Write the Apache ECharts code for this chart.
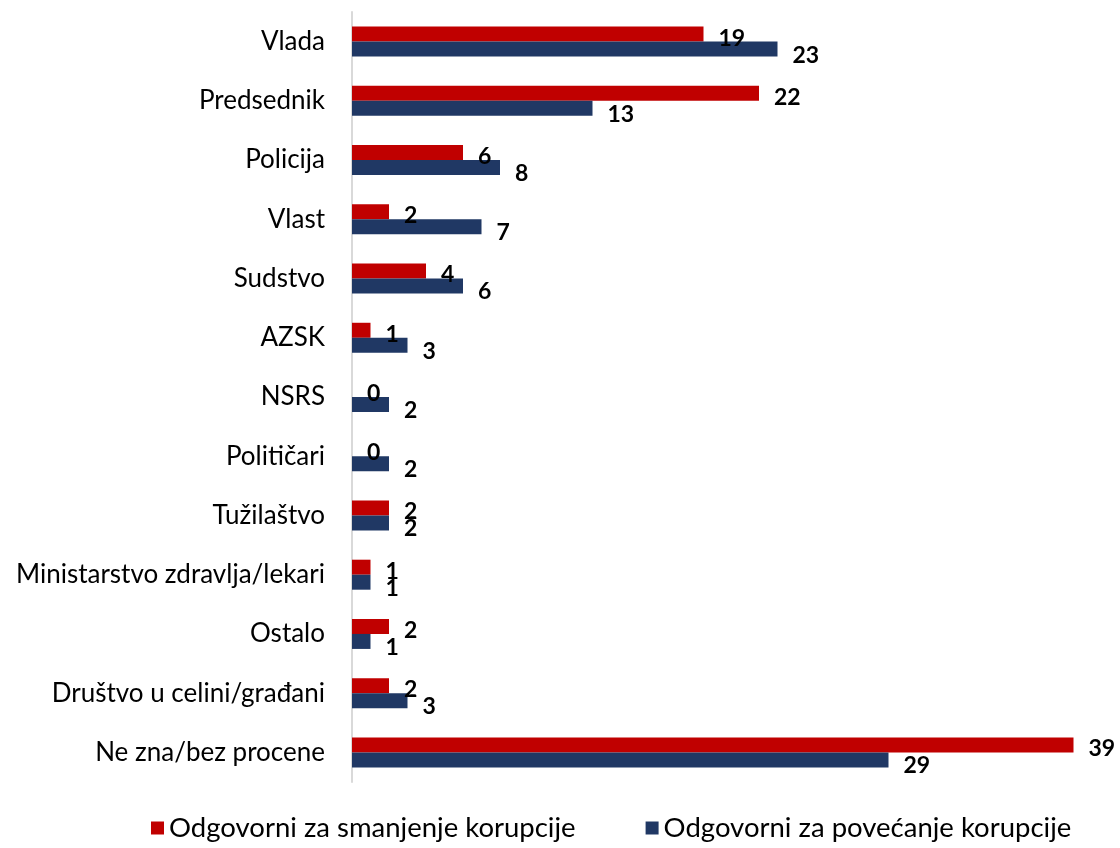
<!DOCTYPE html>
<html>
<head>
<meta charset="utf-8">
<script src="https://cdn.jsdelivr.net/npm/echarts@6/dist/echarts.min.js"></script>
<style>
  html, body { margin: 0; padding: 0; background: #fff; }
  #main { width: 1120px; height: 848px; }
</style>
</head>
<body>
<div id="main"></div>
<script>
const categories = ['Vlada', 'Predsednik', 'Policija', 'Vlast', 'Sudstvo', 'AZSK', 'NSRS', 'Političari',
  'Tužilaštvo', 'Ministarstvo zdravlja/lekari', 'Ostalo', 'Društvo u celini/građani', 'Ne zna/bez procene']
const smanjenje = [19, 22, 6, 2, 4, 1, 0, 0, 2, 1, 2, 2, 39]
const povecanje = [23, 13, 8, 7, 6, 3, 2, 2, 2, 1, 1, 3, 29]
const seriesNames = ['Odgovorni za smanjenje korupcije', 'Odgovorni za povećanje korupcije']

const font = 'Lato, "Open Sans", sans-serif'

// labels sit a little to the right and below the bar end
const barLabel = (dy) => ({
    show: true,
    position: 'right',
    distance: 15,
    offset: [0, dy],
    color: '#000',
    fontFamily: font,
    fontWeight: 'bold',
    fontSize: 23
})

var myChart = echarts.init(document.getElementById('main'))
var option = {
    animation: false,
    grid: {
        left: 352,
        right: 28,
        top: 12,
        bottom: 66
    },
    legend: {
        bottom: 1,
        left: 146,
        itemWidth: 13,
        itemHeight: 13,
        itemGap: 70,
        icon: 'rect',
        textStyle: {
            fontFamily: font,
            fontSize: 27.5,
            color: '#000'
        },
        data: seriesNames
    },
    xAxis: {
        type: 'value',
        min: 0,
        max: 40,
        show: false
    },
    yAxis: {
        type: 'category',
        inverse: true,
        data: categories,
        axisTick: { show: false },
        axisLine: {
            lineStyle: { color: '#d9d9d9', width: 2 }
        },
        axisLabel: {
            margin: 27,
            color: '#000',
            fontFamily: font,
            fontSize: 26
        }
    },
    series: [
        {
            name: seriesNames[0],
            type: 'bar',
            barWidth: 15,
            barGap: '0%',
            itemStyle: { color: '#C00000' },
            label: barLabel(4),
            data: smanjenje
        },
        {
            name: seriesNames[1],
            type: 'bar',
            barWidth: 15,
            barGap: '0%',
            itemStyle: { color: '#203864' },
            label: barLabel(6),
            data: povecanje
        }
    ]
}
myChart.setOption(option)
</script>
</body>
</html>
